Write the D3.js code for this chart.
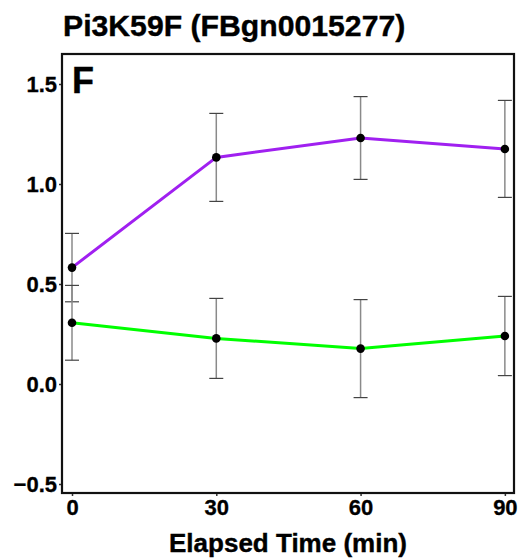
<!DOCTYPE html>
<html>
<head>
<meta charset="utf-8">
<script src="https://cdn.jsdelivr.net/npm/d3@7"></script>
<style>
  body { margin: 0; background: #fff; }
  svg { display: block; font-family: "Liberation Sans", Arial, sans-serif; }
</style>
</head>
<body>
<svg id="chart" width="523" height="560"></svg>
<script>
const titleText = "Pi3K59F (FBgn0015277)";
const panelLabel = "F";
const xLabel = "Elapsed Time (min)";
const times = [0, 30, 60, 90];
const xTicks = [0, 30, 60, 90];
const yTicks = [-0.5, 0.0, 0.5, 1.0, 1.5];
const purpleMean = [0.582, 1.133, 1.230, 1.175];
const purpleLow  = [0.411, 0.913, 1.023, 0.933];
const purpleHigh = [0.753, 1.353, 1.437, 1.418];
const greenMean = [0.306, 0.228, 0.177, 0.240];
const greenLow  = [0.119, 0.028, -0.068, 0.042];
const greenHigh = [0.493, 0.428, 0.422, 0.438];
const seriesNames = ["purple", "green"];
const seriesColors = ["#A020F0", "#00FF00"];

(function () {
const series = [
  {name: seriesNames[0], color: seriesColors[0], mean: purpleMean, low: purpleLow, high: purpleHigh},
  {name: seriesNames[1], color: seriesColors[1], mean: greenMean, low: greenLow, high: greenHigh}
];

const svg = d3.select("#chart");
const pL = 62, pR = 514, pT = 54, pB = 493;
const x = d3.scaleLinear().domain([-2.08, 91.9]).range([pL, pR]);
const y = d3.scaleLinear().domain([-0.545, 1.65]).range([pB, pT]);

// title
svg.append("text").attr("x", 63).attr("y", 36)
  .attr("font-size", 30.2).attr("font-weight", "bold").attr("fill", "#000")
  .attr("stroke", "#000").attr("stroke-width", 0.4)
  .text(titleText);

// axes
const yAxis = svg.append("g").attr("transform", `translate(${pL},0)`)
  .call(d3.axisLeft(y).tickValues(yTicks).tickFormat(d3.format(".1f")).tickSize(3).tickPadding(2));
const xAxis = svg.append("g").attr("transform", `translate(0,${pB})`)
  .call(d3.axisBottom(x).tickValues(xTicks).tickFormat(d3.format("d")).tickSize(3).tickPadding(3));
[yAxis, xAxis].forEach(g => {
  g.select(".domain").remove();
  g.selectAll(".tick line").attr("stroke", "#333").attr("stroke-width", 1.5);
  g.selectAll(".tick text").attr("font-size", 22).attr("font-weight", "bold").attr("fill", "#000")
    .attr("stroke", "#000").attr("stroke-width", 0.3)
    .attr("font-family", "Liberation Sans, Arial, sans-serif");
});
yAxis.selectAll(".tick text").text(d => d < 0 ? "\u22120.5" : d3.format(".1f")(d));

// panel border
svg.append("rect").attr("x", pL).attr("y", pT).attr("width", pR - pL).attr("height", pB - pT)
  .attr("fill", "none").attr("stroke", "#111").attr("stroke-width", 2.2);

// panel label
svg.append("text").attr("x", 72).attr("y", 93).attr("font-size", 36).attr("font-weight", "bold")
  .attr("fill", "#000").attr("stroke", "#000").attr("stroke-width", 0.4).text(panelLabel);

// error bars
series.forEach(s => {
  const g = svg.append("g");
  times.forEach((t, i) => {
    g.append("line").attr("x1", x(t)).attr("x2", x(t)).attr("y1", y(s.low[i])).attr("y2", y(s.high[i]))
      .attr("stroke", "#8a8a8a").attr("stroke-width", 1.5);
    [s.low[i], s.high[i]].forEach(v => {
      g.append("line").attr("x1", x(t) - 7).attr("x2", x(t) + 7).attr("y1", y(v)).attr("y2", y(v))
        .attr("stroke", "#444").attr("stroke-width", 1.2);
    });
  });
});

// lines
const line = d3.line().x((d, i) => x(times[i])).y(d => y(d));
series.forEach(s => {
  svg.append("path").datum(s.mean).attr("d", line).attr("fill", "none")
    .attr("stroke", s.color).attr("stroke-width", 3);
});

// points
series.forEach(s => {
  svg.append("g").selectAll("circle").data(s.mean).join("circle")
    .attr("cx", (d, i) => x(times[i])).attr("cy", d => y(d)).attr("r", 4.3).attr("fill", "#000");
});

// x label
svg.append("text").attr("x", (pL + pR) / 2).attr("y", 552).attr("text-anchor", "middle")
  .attr("font-size", 26).attr("font-weight", "bold").attr("fill", "#000")
  .attr("stroke", "#000").attr("stroke-width", 0.4).text(xLabel);
})();
</script>
</body>
</html>
